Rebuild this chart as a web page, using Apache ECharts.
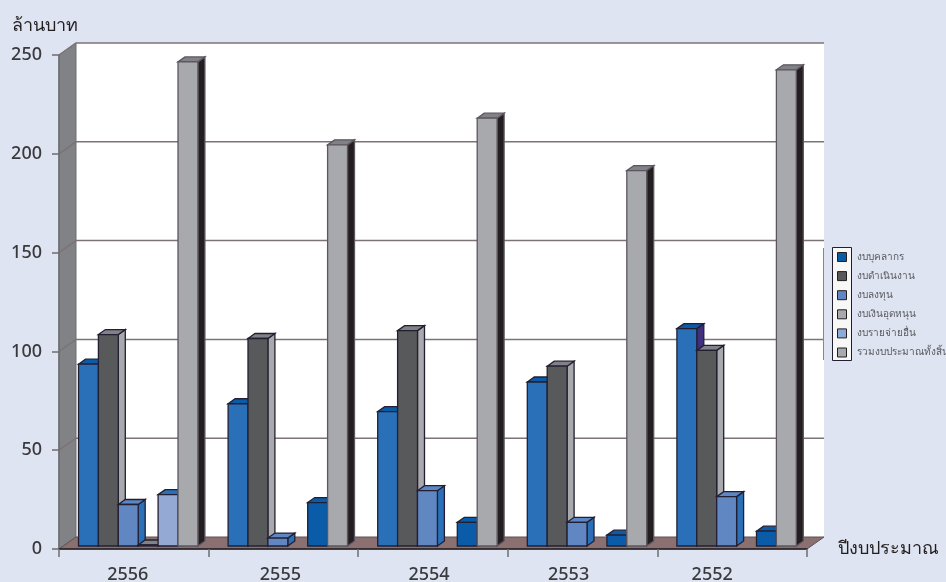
<!DOCTYPE html>
<html>
<head>
<meta charset="utf-8">
<style>html,body{margin:0;padding:0;background:#dfe4f2}#chart{width:946px;height:582px}</style>
<script src="https://cdn.jsdelivr.net/npm/echarts@6/dist/echarts.min.js"></script>
</head>
<body>
<div id="chart"></div>
<script>
var years = ['2556', '2555', '2554', '2553', '2552'];
var yearLabelShift = [12, 6, 8, 28, 40];
var yTicks = [0, 50, 100, 150, 200, 250];

var personnel = [92, 72, 68, 83, 110];
var operating = [107, 105, 109, 91, 99];
var investment = [21, 4, 28, 12, 25];
var subsidy = [0.5, 0, 0, 0, 0];
var otherExpense = [26, 22, 12, 5.5, 7.5];
var totalBudget = [245, 203, 216.5, 190, 241];

var names = ['งบบุคลากร', 'งบดำเนินงาน', 'งบลงทุน', 'งบเงินอุดหนุน', 'งบรายจ่ายอื่น', 'รวมงบประมาณทั้งสิ้น'];
var values = [personnel, operating, investment, subsidy, otherExpense, totalBudget];
var legendColors = ['#0b5ca8', '#58595b', '#6187c2', '#a7a9ac', '#8eaad8', '#a7a9ac'];

// front / top / side faces per series, otherExpense changes colour after the first year
var faces = [
  { front: '#2a70b8', top: '#0b5ca8', side: '#41307f', edge: '#231f33' },
  { front: '#58595b', top: '#808285', side: '#a7a9ac', edge: '#231f33' },
  { front: '#6187c2', top: '#5d86c4', side: '#2a6fb8', edge: '#231f33' },
  { front: '#a7a9ac', top: '#808285', side: '#231f20', edge: '#231f33' },
  { front: '#0b5ca8', top: '#0b5ca8', side: '#231f20', edge: '#231f33' },
  { front: '#a7a9ac', top: '#808285', side: '#231f20', edge: '#5d5560' }
];
var firstOtherFace = { front: '#94aad5', top: '#2a70b8', side: '#231f20', edge: '#231f33' };

var font = '"Noto Sans", sans-serif';
var DX = 17, DY = 12;        // wall depth
var BAR_W = 19.9, BAR_DX = 7, BAR_DY = 5;

function poly(points, fill, stroke, width) {
  return { type: 'polygon', shape: { points: points }, style: { fill: fill, stroke: stroke || null, lineWidth: width || 0 } };
}

function renderFrame(params, api) {
  var l = params.coordSys.x, r = l + params.coordSys.width;
  var b = api.coord([0, 0])[1], t = api.coord([0, 250])[1];
  var kids = [
    poly([[l + DX, t - DY], [r + DX, t - DY], [r + DX, b - DY], [l + DX, b - DY]], '#fff'),
    poly([[l, t], [l + DX, t - DY], [l + DX, b - DY], [l, b]], '#808285', '#6d6e71', 1),
    poly([[l, b], [l + DX, b - DY], [r + DX, b - DY], [r, b]], '#8b7071', '#5e4f55', 1)
  ];
  yTicks.forEach(function (v) {
    if (v === 0) return;
    var y = api.coord([0, v])[1];
    kids.push({ type: 'polyline', shape: { points: [[l, y], [l + DX, y - DY], [r + DX, y - DY]] }, style: { fill: null, stroke: '#7d7377', lineWidth: 1.5 } });
  });
  return { type: 'group', children: kids };
}

function renderBar(s) {
  return function (params, api) {
    var i = api.value(0), v = api.value(1);
    if (!v) return null;
    var c = i === 0 && s === 4 ? firstOtherFace : faces[s];
    var x0 = api.coord([i, 0])[0] - 55.3 + s * BAR_W, x1 = x0 + BAR_W;
    var y0 = api.coord([i, 0])[1] - 3, y1 = api.coord([i, v])[1] - 3;
    return { type: 'group', children: [
      poly([[x1, y1], [x1 + BAR_DX, y1 - BAR_DY], [x1 + BAR_DX, y0 - BAR_DY], [x1, y0]], c.side, c.edge, 1.3),
      poly([[x0, y1], [x0 + BAR_DX, y1 - BAR_DY], [x1 + BAR_DX, y1 - BAR_DY], [x1, y1]], c.top, c.edge, 1.3),
      poly([[x0, y1], [x1, y1], [x1, y0], [x0, y0]], c.front, c.edge, 1.3)
    ] };
  };
}

var series = [{
  type: 'custom', silent: true, z: 1, renderItem: renderFrame, data: [[0, 0]], encode: { x: 0, y: 1 }
}];
names.forEach(function (name, s) {
  series.push({
    name: name, type: 'custom', z: 2, renderItem: renderBar(s), encode: { x: 0, y: 1 },
    itemStyle: { color: legendColors[s] },
    data: values[s].map(function (v, i) { return [i, v]; })
  });
});

var richYears = {};
yearLabelShift.forEach(function (p, i) { richYears['y' + i] = { padding: [0, p, 0, 0], fontSize: 18, fontWeight: 500, color: '#3a3a3c', fontFamily: font }; });

var chart = echarts.init(document.getElementById('chart'), null, { renderer: 'canvas' });
chart.setOption({
  animation: false,
  backgroundColor: '#dfe4f2',
  grid: { left: 59, right: 139, top: 55, bottom: 33, outerBoundsMode: 'none', containLabel: false },
  xAxis: {
    type: 'category', data: years, z: 3,
    name: 'ปีงบประมาณ', nameLocation: 'end', nameGap: 31,
    nameTextStyle: { fontSize: 18, fontWeight: 500, color: '#231f20', fontFamily: font, padding: [0, 0, 26, 0] },
    axisLine: { lineStyle: { color: '#231f20', width: 1.5 } },
    axisTick: { show: true, alignWithLabel: false, length: 8, lineStyle: { color: '#6d6e71', width: 1.5 } },
    axisLabel: {
      margin: 17,
      formatter: function (v) { return '{y' + years.indexOf(v) + '|' + v + '}'; },
      rich: richYears
    }
  },
  yAxis: {
    type: 'value', min: 0, max: 250, interval: 50, z: 3,
    name: 'ล้านบาท', nameLocation: 'end', nameGap: 20,
    nameTextStyle: { fontSize: 18, fontWeight: 500, color: '#231f20', fontFamily: font, align: 'left', padding: [0, 0, 0, -47] },
    axisLine: { show: true, lineStyle: { color: '#6d6e71', width: 1.5 } },
    axisTick: { show: true, length: 7, lineStyle: { color: '#6d6e71', width: 1.5 } },
    axisLabel: { margin: 17, fontSize: 18, fontWeight: 500, color: '#3a3a3c', fontFamily: font },
    splitLine: { show: false }
  },
  legend: {
    orient: 'vertical', left: 832, top: 247, z: 6,
    itemWidth: 9, itemHeight: 9, itemGap: 9.1, icon: 'rect',
    textStyle: { fontSize: 10, color: '#58595b', fontFamily: font, padding: [0, 0, 0, 5] },
    selectedMode: false,
    data: names.map(function (n, s) {
      return { name: n, itemStyle: { color: legendColors[s], borderColor: '#231f20', borderWidth: 1 } };
    })
  },
  graphic: [
    { type: 'rect', z: 3, shape: { x: 832.5, y: 247.5, width: 19, height: 113 }, style: { fill: '#f8f8f6', stroke: '#231f33', lineWidth: 1 } },
    { type: 'line', z: 3, shape: { x1: 823.5, y1: 248, x2: 823.5, y2: 360 }, style: { stroke: '#8a8490', lineWidth: 1 } }
  ],
  series: series
});
</script>
</body>
</html>
